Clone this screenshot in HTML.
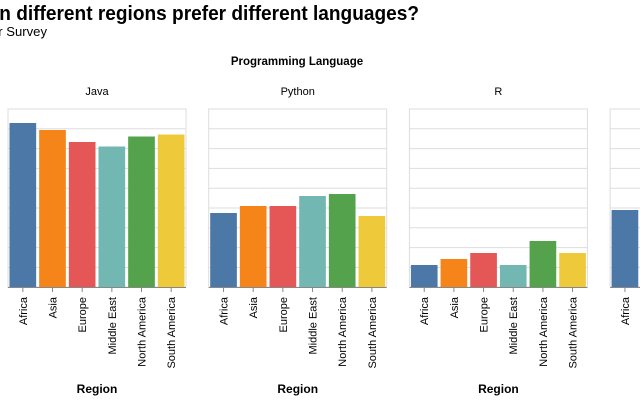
<!DOCTYPE html>
<html><head><meta charset="utf-8"><style>
body{margin:0;background:#fff;width:640px;height:400px;overflow:hidden}
svg{font-family:"Liberation Sans","DejaVu Sans",sans-serif}
</style></head><body>
<svg id="s" width="640" height="400" xmlns="http://www.w3.org/2000/svg">
<text x="-6" y="20" font-size="20" font-weight="bold" fill="#000" textLength="425" lengthAdjust="spacingAndGlyphs">in different regions prefer different languages?</text>
<text x="-9" y="36" font-size="13" fill="#000" textLength="56" lengthAdjust="spacingAndGlyphs">er Survey</text>
<text x="297" y="65" text-anchor="middle" font-size="11.5" font-weight="bold">Programming Language</text>
</svg>
<script>
var s=document.getElementById('s'),h='';
var cols=['#4c78a8','#f58518','#e45756','#72b7b2','#54a24b','#eeca3b'];
var regs=['Africa','Asia','Europe','Middle East','North America','South America'];
var names=['Java','Python','R',''];
var tops=[[123,130,142,146.5,136.5,134.5],[213,206,206,196,194,216],[265,259,253,265,241,253],[210,210,210,210,210,210]];
for(var p=0;p<4;p++){
 var x0=8+p*200.7,w=178,y0=109,y1=287;
 h+='<text x="'+(x0+89)+'" y="95" text-anchor="middle" font-size="11">'+names[p]+'</text>';
 h+='<rect x="'+x0+'" y="'+y0+'" width="'+w+'" height="'+(y1-y0)+'" fill="none" stroke="#ddd"/>';
 for(var k=1;k<9;k++){var y=y0+k*19.8;h+='<line x1="'+x0+'" x2="'+(x0+w)+'" y1="'+y+'" y2="'+y+'" stroke="#ddd"/>';}
 var bw=w/6;
 for(var i=0;i<6;i++){
  if(p==3&&i>0)break;
  var bx=x0+i*bw+1.5,t=tops[p][i];
  h+='<rect x="'+bx+'" y="'+t+'" width="'+(bw-3)+'" height="'+(y1-t)+'" fill="'+cols[i]+'"/>';
  var cx=x0+i*bw+bw/2;
  h+='<line x1="'+cx+'" x2="'+cx+'" y1="'+y1+'" y2="'+(y1+5)+'" stroke="#888"/>';
  h+='<text transform="translate('+(cx+4)+',297) rotate(-90)" text-anchor="end" font-size="11" fill="#000">'+regs[i]+'</text>';
 }
 h+='<line x1="'+x0+'" x2="'+(x0+w)+'" y1="'+(y1+0.5)+'" y2="'+(y1+0.5)+'" stroke="#888"/>';
 h+='<text x="'+(x0+89)+'" y="393" text-anchor="middle" font-size="12" font-weight="bold">'+(p<3?'Region':'')+'</text>';
}
s.insertAdjacentHTML('beforeend',h);
</script>
</body></html>
